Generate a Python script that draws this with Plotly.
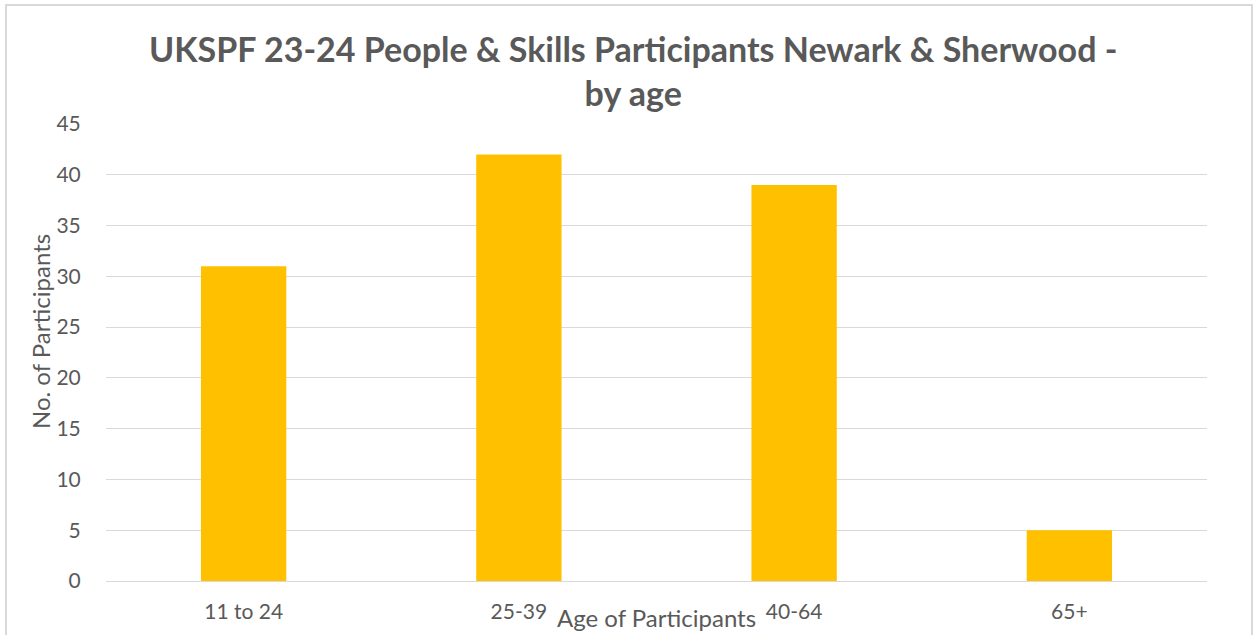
import plotly.graph_objects as go

categories = ["11 to 24", "25-39", "40-64", "65+"]
participants = [31, 42, 39, 5]
y_ticks = [0, 5, 10, 15, 20, 25, 30, 35, 40, 45]

W, H = 1253, 635
L, R, T, B = 106, 46, 124, 54
pw, ph = W - L - R, H - T - B

def px_x(x):
    return (x - L) / pw

def px_y(y):
    return (H - B - y) / ph

grey = "#595959"
fig = go.Figure(go.Bar(x=categories, y=participants, marker_color="#FFC000",
                       marker_line_width=0))

fig.update_layout(
    width=W, height=H,
    margin=dict(l=L, r=R, t=T, b=B, autoexpand=False),
    paper_bgcolor="white", plot_bgcolor="white",
    bargap=0.69,
    showlegend=False,
    font=dict(family="Lato, Carlito, sans-serif", color=grey),
)
fig.update_xaxes(showgrid=False, showline=False, ticks="outside", ticklen=12,
                 tickcolor="rgba(0,0,0,0)", tickfont=dict(size=21, color=grey))
fig.update_yaxes(range=[0, 45], tickvals=y_ticks, showgrid=True, gridcolor="#d9d9d9",
                 gridwidth=1, zeroline=True, zerolinecolor="#d9d9d9", zerolinewidth=1,
                 ticks="outside", ticklen=20, tickcolor="rgba(0,0,0,0)",
                 tickfont=dict(size=21, color=grey))

fig.add_annotation(text="<b>UKSPF 23-24 People & Skills Participants Newark & Sherwood -<br>by age</b>",
                   xref="paper", yref="paper", x=px_x(633), y=px_y(71),
                   xanchor="center", yanchor="middle", showarrow=False,
                   font=dict(size=34, color=grey))
fig.add_annotation(text="Age of Participants", xref="paper", yref="paper",
                   x=px_x(656), y=px_y(617), xanchor="center", yanchor="middle",
                   showarrow=False, font=dict(size=24, color=grey))
fig.add_annotation(text="No. of Participants", xref="paper", yref="paper",
                   x=px_x(40), y=px_y(332), xanchor="center", yanchor="middle",
                   textangle=-90, showarrow=False, font=dict(size=24, color=grey))

# chart border
fig.add_shape(type="rect", xref="paper", yref="paper",
              x0=px_x(6), x1=px_x(1252), y0=px_y(640), y1=px_y(5),
              line=dict(color="#d9d9d9", width=2), fillcolor="rgba(0,0,0,0)", layer="below")

fig.write_html("out.html", config={"displayModeBar": False},
               post_script="document.body.style.margin='0';document.body.style.overflow='hidden';")
